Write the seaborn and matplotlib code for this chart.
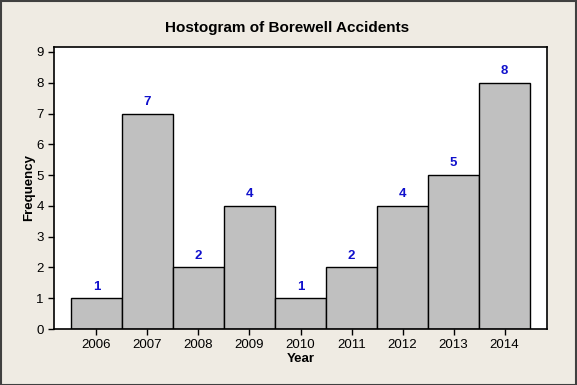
import matplotlib
matplotlib.use("Agg")
import matplotlib.pyplot as plt
import seaborn as sns
import pandas as pd

years = ["2006", "2007", "2008", "2009", "2010", "2011", "2012", "2013", "2014"]
freq = [1, 7, 2, 4, 1, 2, 4, 5, 8]
yticks = list(range(0, 10))

sns.set_style("ticks")
plt.rcParams['font.family'] = ['Liberation Sans', 'DejaVu Sans']
plt.rcParams['text.color'] = 'black'
plt.rcParams['axes.labelcolor'] = 'black'

bg = "#EFEBE3"
fig = plt.figure(figsize=(5.77, 3.85), dpi=100, facecolor=bg)
ax = fig.add_axes([54/577, 1 - 329/385, (547-54)/577, (329-47)/385])
ax.set_facecolor("white")

df = pd.DataFrame({"Year": years, "Frequency": freq})
sns.barplot(data=df, x="Year", y="Frequency", ax=ax, color="#C0C0C0",
            width=1.0, edgecolor="black", linewidth=1.0, saturation=1)

for i, v in enumerate(freq):
    ax.text(i, v + 0.38, str(v), ha="center", va="center", color="#1010CC",
            fontsize=9.5, fontweight="bold")

ax.set_xlim(-0.5 - 17/51.1, 8.5 + 17/51.1)
ax.set_ylim(0, 9 + 5/30.8)
ax.set_yticks(yticks)
ax.tick_params(axis="both", labelsize=9.5, length=4, width=1, color="black", labelcolor="black")
for s in ax.spines.values():
    s.set_visible(True)
    s.set_color("black")
    s.set_linewidth(1.2)
ax.set_xlabel("Year", fontsize=9.5, fontweight="bold", labelpad=1)
ax.set_ylabel("Frequency", fontsize=9.5, fontweight="bold", labelpad=1)
fig.text(287/577, 1 - 28/385, "Hostogram of Borewell Accidents", ha="center", va="center",
         fontsize=11, fontweight="bold")

# outer frame
fig.patches.append(plt.Rectangle((0.001, 0.001), 0.997, 0.997, transform=fig.transFigure,
                                 fill=False, edgecolor="#404040", linewidth=1.5))

fig.savefig("out.png", dpi=100, facecolor=bg)
